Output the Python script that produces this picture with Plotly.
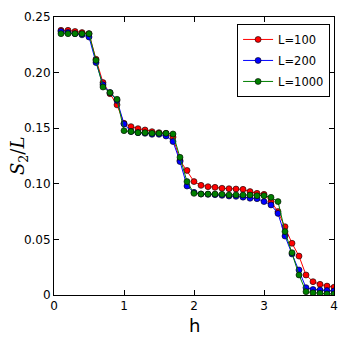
import plotly.graph_objects as go

# field values h = 0.1 ... 4.0
h = [round(0.1 * i, 1) for i in range(1, 41)]

s2_L100 = [0.238, 0.238, 0.237, 0.236, 0.235, 0.212, 0.191, 0.181, 0.171, 0.1544,
           0.1514, 0.1496, 0.1484, 0.1469, 0.146, 0.1454, 0.142, 0.121, 0.112, 0.102,
           0.0986, 0.0974, 0.0968, 0.096, 0.0956, 0.0953, 0.095, 0.093, 0.0914, 0.0905,
           0.084, 0.075, 0.0614, 0.0465, 0.035, 0.018, 0.012, 0.0096, 0.008, 0.007]

s2_L200 = [0.237, 0.236, 0.235, 0.234, 0.232, 0.209, 0.189, 0.182, 0.175, 0.1538,
           0.147, 0.146, 0.1454, 0.1445, 0.1445, 0.143, 0.138, 0.12, 0.098, 0.0923,
           0.0908, 0.0905, 0.0902, 0.0896, 0.089, 0.0887, 0.088, 0.087, 0.0866, 0.084,
           0.081, 0.0734, 0.053, 0.0369, 0.0225, 0.0066, 0.005, 0.0045, 0.004, 0.0036]

s2_L1000 = [0.235, 0.235, 0.235, 0.235, 0.235, 0.211, 0.187, 0.182, 0.176, 0.1478,
            0.147, 0.146, 0.146, 0.1454, 0.1454, 0.1454, 0.1448, 0.1238, 0.102, 0.0914,
            0.0908, 0.0908, 0.0908, 0.0905, 0.090, 0.090, 0.0899, 0.0899, 0.0893, 0.0893,
            0.0878, 0.084, 0.057, 0.038, 0.018, 0.003, 0.002, 0.0015, 0.001, 0.001]

series = [("L=100", s2_L100, "#ff0000"),
          ("L=200", s2_L200, "#0000ff"),
          ("L=1000", s2_L1000, "#007f00")]

fig = go.Figure()
for name, vals, col in series:
    fig.add_trace(go.Scatter(
        x=h, y=vals, name=name, legendgroup=name, mode="lines+markers",
        line=dict(color=col, width=1),
        marker=dict(color=col, size=6, line=dict(color="black", width=0.6)),
    ))

axis_style = dict(
    showline=True, linecolor="black", linewidth=1, mirror="ticks",
    ticks="inside", ticklen=5, tickcolor="black",
    showgrid=False, zeroline=False, automargin=False,
    tickfont=dict(family="DejaVu Sans", size=12, color="black"),
)

fig.update_xaxes(range=[0, 4], tickvals=[0, 1, 2, 3, 4], ticktext=["0", "1", "2", "3", "4"],
                 **axis_style)
fig.update_yaxes(range=[0, 0.25], tickvals=[0, 0.05, 0.1, 0.15, 0.2, 0.25],
                 ticktext=["0", "0.05", "0.10", "0.15", "0.20", "0.25"],
                 **axis_style)

# axis titles as annotations so they can be placed exactly
fig.add_annotation(text="h", xref="paper", yref="paper", x=0.5, y=-0.108,
                   showarrow=False, xanchor="center", yanchor="middle",
                   font=dict(family="DejaVu Sans", size=18, color="black"))
fig.add_annotation(text="<i>S</i><sub>2</sub>/<i>L</i>", xref="paper", yref="paper",
                   x=-0.125, y=0.5, textangle=-90, showarrow=False,
                   xanchor="center", yanchor="middle",
                   font=dict(family="DejaVu Serif", size=18, color="black"))

fig.update_layout(
    width=346, height=346,
    margin=dict(l=54, r=12, t=17, b=51),
    paper_bgcolor="white", plot_bgcolor="white",
    showlegend=True,
    legend=dict(x=0.986, y=0.975, xanchor="right", yanchor="top",
                bordercolor="black", borderwidth=1, bgcolor="white",
                font=dict(family="DejaVu Sans", size=11.5, color="black"),
                tracegroupgap=2),
)

# drop the default page margin so the figure sits at the window's corner
fig.write_html("out.html", config={"displayModeBar": False},
               post_script="document.body.style.margin='0';")
